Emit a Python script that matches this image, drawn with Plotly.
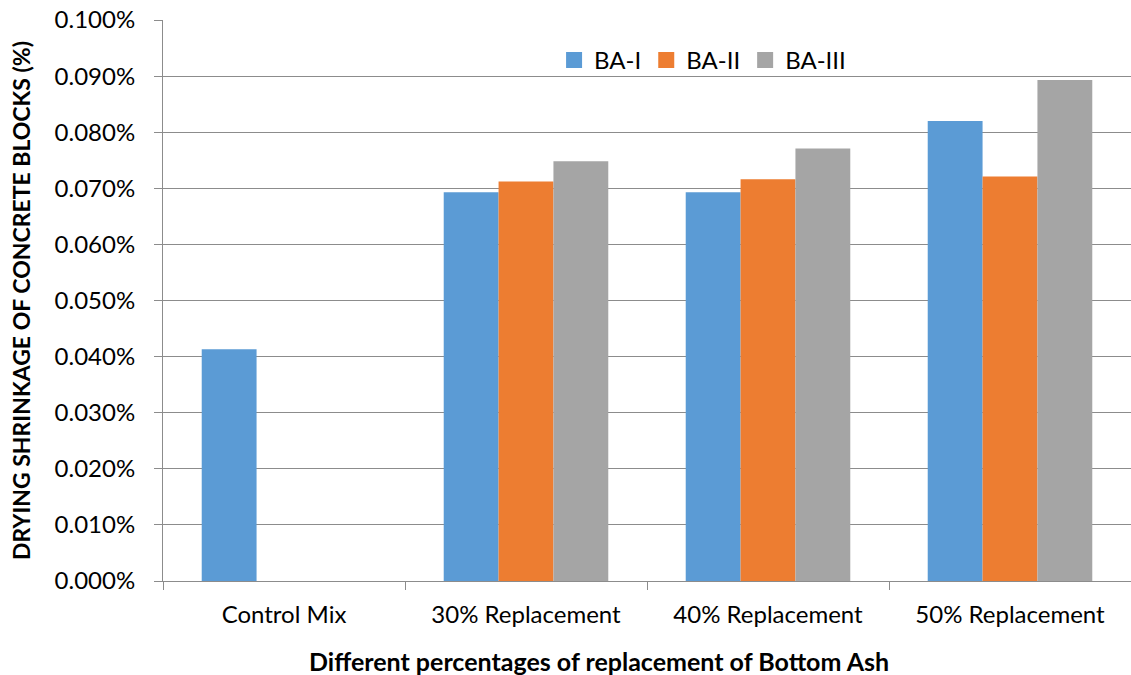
import plotly.graph_objects as go

categories = ["Control Mix", "30% Replacement", "40% Replacement", "50% Replacement"]
series_names = ["BA-I", "BA-II", "BA-III"]
ba1 = [0.000413, 0.000693, 0.000693, 0.000820]
ba2 = [None, 0.000712, 0.000716, 0.000721]
ba3 = [None, 0.000748, 0.000771, 0.000893]
colors = ["#5B9BD5", "#ED7D31", "#A5A5A5"]
x_title = "Different percentages of replacement of Bottom Ash"
y_title = "DRYING SHRINKAGE OF CONCRETE BLOCKS (%)"

font = "Lato, Calibri, Carlito, sans-serif"
fig = go.Figure()
for name, vals, c in zip(series_names, [ba1, ba2, ba3], colors):
    fig.add_trace(go.Bar(x=categories, y=vals, name=name, showlegend=False,
                         marker=dict(color=c, line=dict(width=0))))
# legend entries with larger square swatches
for name, c in zip(series_names, colors):
    fig.add_trace(go.Scatter(x=[None], y=[None], mode="markers", name=name,
                             marker=dict(symbol="square", size=16, color=c)))

fig.update_layout(
    width=1131, height=675,
    paper_bgcolor="white", plot_bgcolor="white",
    margin=dict(l=163, r=0, t=20, b=94),
    barmode="group", bargap=0.32, bargroupgap=0,
    font=dict(family=font, size=24, color="#000000"),
    legend=dict(orientation="h", x=0.404, xanchor="left", y=0.928, yanchor="middle",
                font=dict(size=24), bgcolor="rgba(0,0,0,0)", traceorder="normal",
                itemwidth=30),
    showlegend=True,
    annotations=[dict(text="<b>" + x_title + "</b>", xref="paper", yref="paper",
                      x=0.45, y=-0.143, xanchor="center", yanchor="middle",
                      showarrow=False, font=dict(size=25, family=font))],
)
fig.update_yaxes(
    range=[0, 0.001], dtick=0.0001, tickformat=".3%",
    showgrid=True, gridcolor="#8C8C8C", gridwidth=1,
    showline=True, linecolor="#8C8C8C", linewidth=1,
    ticks="outside", ticklen=8, tickcolor="#8C8C8C",
    ticklabelstandoff=14,
    zeroline=False, automargin=False,
    tickfont=dict(size=24),
    title=dict(text="<b>" + y_title + "</b>", font=dict(size=23), standoff=17),
)
fig.update_xaxes(
    showline=True, linecolor="#8C8C8C", linewidth=1,
    ticks="outside", ticklen=8, tickcolor="#8C8C8C", tickson="boundaries",
    ticklabelstandoff=12,
    automargin=False,
    tickfont=dict(size=24),
)
fig.write_html("out.html", config={"displayModeBar": False},
               post_script="document.body.style.margin='0';document.body.style.overflow='hidden';")
